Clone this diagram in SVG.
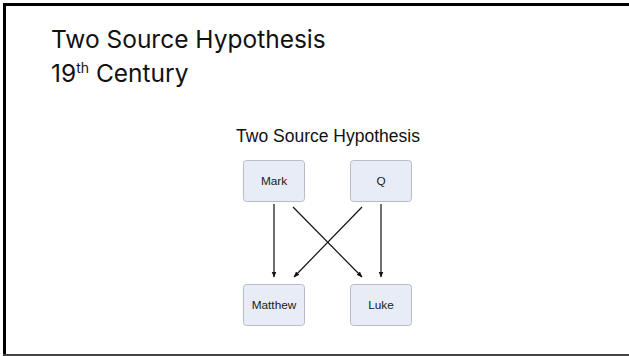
<svg xmlns="http://www.w3.org/2000/svg" width="629" height="356" viewBox="0 0 629 356">
<defs>
<style>
.box{fill:#e8ecf6;stroke:#b8bcc6;stroke-width:1}
.lbl{font-family:"Liberation Sans",Arial,sans-serif;font-size:11.8px;fill:#1a1a1a;text-anchor:middle}
.edge{stroke:#111;stroke-width:1.2;fill:none;marker-end:url(#ah)}
.big{font-family:Inter,"Liberation Sans",sans-serif;font-size:24.5px;fill:#111}
</style>
<marker id="ah" viewBox="0 0 10 10" refX="9" refY="5" markerWidth="6" markerHeight="6" orient="auto" markerUnits="userSpaceOnUse">
<path d="M0,1 L10,5 L0,9 z" fill="#111"/>
</marker>
</defs>
<rect width="629" height="356" fill="#fff"/>
<g id="frame">
<line x1="3" y1="4.5" x2="629" y2="4.5" stroke="#000" stroke-width="3"/>
<line x1="4.5" y1="3" x2="4.5" y2="356" stroke="#000" stroke-width="3"/>
<line x1="3" y1="355" x2="629" y2="355" stroke="#444" stroke-width="2"/>
</g>
<g id="heading">
<text class="big" x="51" y="48">Two Source Hypothesis</text>
<text class="big" x="51" y="82">19<tspan font-size="14" dy="-9">th</tspan><tspan dy="9"> Century</tspan></text>
</g>
<text x="328" y="142" font-family="'Liberation Sans',Arial,sans-serif" font-size="17.5" fill="#111" text-anchor="middle">Two Source Hypothesis</text>
<g id="connectors">
<line class="edge" x1="274" y1="204" x2="274" y2="277"/>
<line class="edge" x1="293" y1="207" x2="362" y2="277"/>
<line class="edge" x1="362" y1="207" x2="294" y2="277"/>
<line class="edge" x1="381" y1="204" x2="381" y2="277"/>
</g>
<g id="mark"><rect class="box" x="243.5" y="160.5" width="61" height="41" rx="3"/><text class="lbl" x="274" y="185">Mark</text></g>
<g id="q"><rect class="box" x="350.5" y="160.5" width="61" height="41" rx="3"/><text class="lbl" x="381" y="185">Q</text></g>
<g id="matthew"><rect class="box" x="243.5" y="284.5" width="61" height="41" rx="3"/><text class="lbl" x="274" y="309">Matthew</text></g>
<g id="luke"><rect class="box" x="350.5" y="284.5" width="61" height="41" rx="3"/><text class="lbl" x="381" y="309">Luke</text></g>
</svg>
